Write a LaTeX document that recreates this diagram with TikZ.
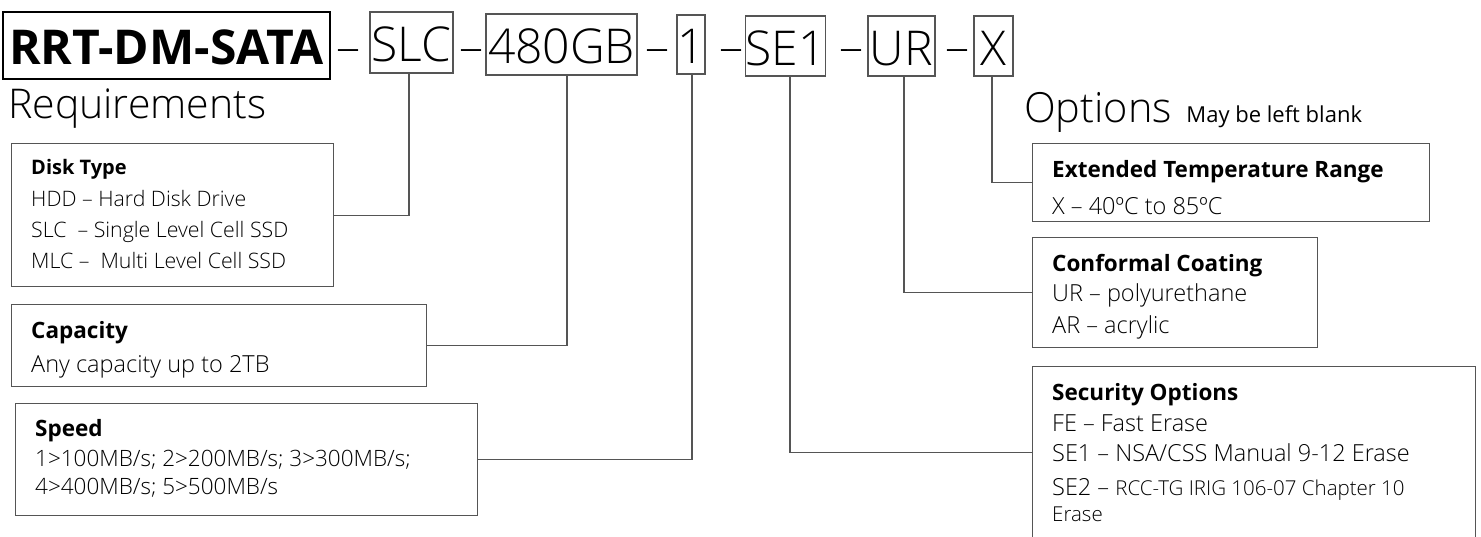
\documentclass[tikz,border=0pt]{standalone}
\usepackage{fontspec}
\setmainfont{Open Sans Light}[BoldFont={Open Sans Bold}]
\newfontfamily\regularfont{Open Sans}
\definecolor{linegray}{HTML}{555555}
\begin{document}
\begin{tikzpicture}[x=1pt,y=-1pt,
  code/.style={draw=linegray, line width=1.2pt, inner sep=0pt,
    font=\fontsize{48}{48}\selectfont, text height=38pt, text depth=0pt},
  infobox/.style={draw=linegray, line width=1.2pt, anchor=north west, inner sep=0pt},
  boxtitle/.style={anchor=base west, inner sep=0pt, font=\bfseries\fontsize{22.5}{26}\selectfont},
  boxline/.style={anchor=base west, inner sep=0pt, font=\fontsize{23.5}{27}\selectfont},
  disktitle/.style={boxtitle, font=\bfseries\fontsize{20}{24}\selectfont},
  diskline/.style={boxline, font=\fontsize{21.3}{25}\selectfont},
  speedline/.style={anchor=base west, inner sep=0pt, font=\fontsize{22.5}{26}\selectfont},
  dashsym/.style={anchor=base, inner sep=0pt, font=\fontsize{48}{48}\selectfont},
  heading/.style={anchor=base west, inner sep=0pt, font=\fontsize{41}{41}\selectfont},
  wire/.style={draw=linegray, line width=1.2pt}]
\useasboundingbox (0,0) rectangle (1481,536);

% part number fields
\node[code, draw=black, line width=2.5pt, minimum width=327pt, minimum height=67pt,
      font=\bfseries\fontsize{48}{48}\selectfont] (pn) at (166.5,45.5) {RRT-DM-SATA};
\node[code, minimum width=83pt,  minimum height=61pt] (slc)  at (411.5,42.5) {SLC};
\node[code, minimum width=151pt, minimum height=61pt] (gb)   at (561.5,44.5) {480GB};
\node[code, minimum width=28pt,  minimum height=59pt] (spd)  at (691,44.5)   {1};
\node[code, minimum width=75pt,  minimum height=60pt] (sec)  at (785.5,46)   {SE1};
\node[code, minimum width=67pt,  minimum height=60pt] (coat) at (901.5,46)   {UR};
\node[code, minimum width=39pt,  minimum height=60pt] (temp) at (993.5,46)   {X};

% separators
\node[dashsym] (d1) at (348,63) {–};
\node[dashsym] (d2) at (471,63) {–};
\node[dashsym] (d3) at (657,63) {–};
\node[dashsym] (d4) at (731,63) {–};
\node[dashsym] (d5) at (851,63) {–};
\node[dashsym] (d6) at (957,63) {–};

% group headings
\node[heading] (req) at (8,118) {Requirements};
\node[heading, font=\fontsize{41.5}{42}\selectfont] (opt) at (1024,122) {Options};
\node[anchor=base west, inner sep=0pt, font=\regularfont\fontsize{22}{26}\selectfont]
  (blank) at ([xshift=14pt]opt.base east) {May be left blank};

% requirement boxes
\node[infobox, minimum width=322pt, minimum height=143pt] (disk) at (11,143) {};
\node[disktitle] (disk-t) at (31,174) {Disk Type};
\node[diskline] (disk-1) at (31,206) {HDD – Hard Disk Drive};
\node[diskline] (disk-2) at (31,237) {SLC \ – Single Level Cell SSD};
\node[diskline] (disk-3) at (31,268) {MLC – \ Multi Level Cell SSD};

\node[infobox, minimum width=415pt, minimum height=82pt] (capbox) at (11,304) {};
\node[boxtitle] (cap-t) at (31,338) {Capacity};
\node[boxline] (cap-1) at (31,372) {Any capacity up to 2TB};

\node[infobox, minimum width=462pt, minimum height=112pt] (spdbox) at (15,403) {};
\node[boxtitle] (spd-t) at (35,436) {Speed};
\node[speedline] (spd-1) at (35,466) {1>100MB/s; 2>200MB/s; 3>300MB/s;};
\node[speedline] (spd-2) at (35,494) {4>400MB/s; 5>500MB/s};

% option boxes
\node[infobox, minimum width=397pt, minimum height=78pt] (tempbox) at (1032,143) {};
\node[boxtitle] (temp-t) at (1052,177) {Extended Temperature Range};
\node[boxline] (temp-1) at (1052,214) {X – 40ºC to 85ºC};

\node[infobox, minimum width=285pt, minimum height=110pt] (coatbox) at (1032,237) {};
\node[boxtitle] (coat-t) at (1052,271) {Conformal Coating};
\node[boxline] (coat-1) at (1052,301) {UR – polyurethane};
\node[boxline] (coat-2) at (1052,333) {AR – acrylic};

\node[infobox, minimum width=443pt, minimum height=172pt] (secbox) at (1032,366) {};
\node[boxtitle] (sec-t) at (1052,400) {Security Options};
\node[boxline] (sec-1) at (1052,431) {FE – Fast Erase};
\node[boxline] (sec-2) at (1052,461) {SE1 – NSA/CSS Manual 9-12 Erase};
\node[boxline] (sec-3) at (1052,495) {SE2 – {\fontsize{20.5}{24}\selectfont RCC-TG IRIG 106-07 Chapter 10}};
\node[boxline, font=\fontsize{20.5}{24}\selectfont] (sec-4) at (1052,521) {Erase};

% leader lines
\draw[wire] ([xshift=-2.5pt]slc.south) |- (disk.east);
\draw[wire] ([xshift=5.5pt]gb.south) |- (capbox.east);
\draw[wire] ([xshift=1pt]spd.south) |- (spdbox.east);
\draw[wire] ([xshift=4.5pt]sec.south) |- (secbox.west);
\draw[wire] ([xshift=2.5pt]coat.south) |- (coatbox.west);
\draw[wire] ([xshift=-1.5pt]temp.south) |- (tempbox.west);
\end{tikzpicture}
\end{document}
